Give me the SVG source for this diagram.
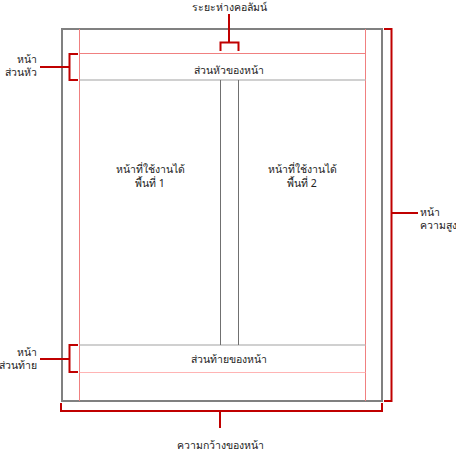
<svg xmlns="http://www.w3.org/2000/svg" width="456" height="453" viewBox="0 0 456 453">
<style>
.t{font-family:"Noto Sans","DejaVu Sans",sans-serif;font-size:10.5px;fill:#222}
.br{fill:none;stroke:#c00000;stroke-width:2}
.pk{stroke:#f08080;stroke-width:1}
.pk2{stroke:#ffb4b4;stroke-width:1}
.gl{stroke:#c0c0c0;stroke-width:1.5}
.cl{stroke:#707070;stroke-width:1}
</style>
<rect width="456" height="453" fill="#fff"/>
<g id="page">
<rect x="62" y="29" width="320" height="372" fill="#fff" stroke="#808080" stroke-width="2"/>
<line class="pk" x1="79.5" y1="29" x2="79.5" y2="401"/>
<line class="pk" x1="365.5" y1="29" x2="365.5" y2="401"/>
<line class="pk" x1="79.5" y1="53.5" x2="365.5" y2="53.5"/>
<line class="gl" x1="79.5" y1="80" x2="365.5" y2="80"/>
<line class="gl" x1="79.5" y1="345" x2="365.5" y2="345"/>
<line class="pk2" x1="79.5" y1="372.5" x2="365.5" y2="372.5"/>
<line class="cl" x1="220.5" y1="80" x2="220.5" y2="345"/>
<line class="cl" x1="238.5" y1="80" x2="238.5" y2="345"/>
</g>
<g id="header"><text class="t" x="229" y="74" text-anchor="middle">ส่วนหัวของหน้า</text></g>
<g id="footer"><text class="t" x="229" y="363" text-anchor="middle">ส่วนท้ายของหน้า</text></g>
<g id="area1"><text class="t" x="150" y="173" text-anchor="middle">หน้าที่ใช้งานได้</text><text class="t" x="150" y="187" text-anchor="middle">พื้นที่ 1</text></g>
<g id="area2"><text class="t" x="302" y="173" text-anchor="middle">หน้าที่ใช้งานได้</text><text class="t" x="302" y="187" text-anchor="middle">พื้นที่ 2</text></g>
<g id="connectors">
<path class="br" d="M220.5 51V42.5H238.5V51M229 42.5V14"/>
<path class="br" d="M78 54H69.5V80H78M69.5 67H40"/>
<path class="br" d="M78 345H69.5V372H78M69.5 359H40"/>
<path class="br" d="M384 29H391.5V401H384M391.5 213H418"/>
<path class="br" d="M61 403V411H382V403M220 411V428"/>
</g>
<g id="labels">
<text class="t" x="229" y="11" text-anchor="middle">ระยะห่างคอลัมน์</text>
<text class="t" x="37" y="63" text-anchor="end">หน้า</text>
<text class="t" x="37" y="76" text-anchor="end">ส่วนหัว</text>
<text class="t" x="37" y="356" text-anchor="end">หน้า</text>
<text class="t" x="37" y="369" text-anchor="end">ส่วนท้าย</text>
<text class="t" x="420" y="216" text-anchor="start">หน้า</text>
<text class="t" x="420" y="229" text-anchor="start">ความสูง</text>
<text class="t" x="220" y="449" text-anchor="middle">ความกว้างของหน้า</text>
</g>
</svg>
